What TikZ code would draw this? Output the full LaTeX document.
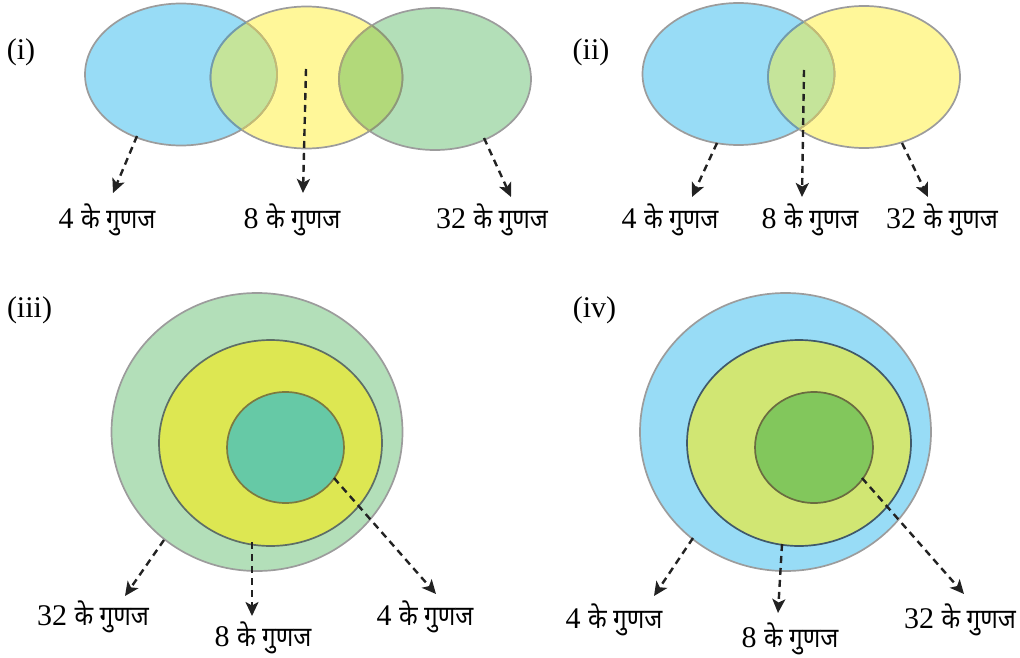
\documentclass[tikz,border=0pt]{standalone}
\usepackage{fontspec}
\setmainfont{Liberation Serif}
\newfontfamily\hindi[Script=Devanagari,Scale=0.92,FakeStretch=0.88]{Noto Sans}
\usetikzlibrary{arrows.meta}

\definecolor{cBlue}{HTML}{98DCF6}
\definecolor{cYellow}{HTML}{FFF799}
\definecolor{cGreen}{HTML}{B3DFB8}
\definecolor{ovBY}{HTML}{C5E49A}
\definecolor{ovYG}{HTML}{B2D97A}
\definecolor{ringgray}{HTML}{9C9C9C}
\definecolor{edgeOlive}{HTML}{C4BC72}
\definecolor{edgeSteel}{HTML}{6F9CAE}
\definecolor{edgeMoss}{HTML}{8E9A76}
\definecolor{edgeKhaki}{HTML}{A8A676}
\definecolor{outerGreen}{HTML}{B3DFB9}
\definecolor{midLime}{HTML}{DDE752}
\definecolor{innerTeal}{HTML}{66C9A6}
\definecolor{midEdgeA}{HTML}{5E6E66}
\definecolor{innerEdgeA}{HTML}{7C7A40}
\definecolor{midPale}{HTML}{D1E673}
\definecolor{innerLeaf}{HTML}{82C75C}
\definecolor{midEdgeB}{HTML}{40596A}
\definecolor{innerEdgeB}{HTML}{6A6C40}
\definecolor{arrowc}{HTML}{222222}

\tikzset{
  ring/.style={line width=1.7pt},
  oval/.style={x radius=96pt, y radius=71pt},
  arr/.style={draw=arrowc, line width=2.4pt, dash pattern=on 7pt off 5pt,
    -{Stealth[length=14pt,width=13pt,inset=3.5pt]}},
  lbl/.style={font=\fontsize{30}{32}\selectfont, anchor=base, inner sep=0pt},
  tag/.style={font=\fontsize{30}{32}\selectfont, anchor=base, inner sep=0pt},
}
\newcommand{\gunaj}[1]{#1 {\hindi के गुणज}}

\begin{document}
\begin{tikzpicture}[x=1pt,y=-1pt]
\useasboundingbox (0,0) rectangle (1020,658);

%% ---------- (i): three overlapping sets ----------
\coordinate (B1) at (181,74.5);
\coordinate (Y1) at (306.5,77.5);
\coordinate (G1) at (435,79);
\fill[cBlue] (B1) ellipse [oval];
\fill[cYellow] (Y1) ellipse [oval];
\fill[cGreen] (G1) ellipse [oval];
\begin{scope}\clip (B1) ellipse [oval]; \fill[ovBY] (Y1) ellipse [oval];\end{scope}
\begin{scope}\clip (Y1) ellipse [oval]; \fill[ovYG] (G1) ellipse [oval];\end{scope}
\draw[ring, ringgray] (B1) ellipse [oval] (Y1) ellipse [oval] (G1) ellipse [oval];
\begin{scope}\clip (Y1) ellipse [oval]; \draw[ring, edgeOlive] (B1) ellipse [oval];\end{scope}
\begin{scope}\clip (B1) ellipse [oval]; \draw[ring, edgeSteel] (Y1) ellipse [oval];\end{scope}
\begin{scope}\clip (G1) ellipse [oval]; \draw[ring, edgeMoss] (Y1) ellipse [oval];\end{scope}
\begin{scope}\clip (Y1) ellipse [oval]; \draw[ring, edgeKhaki] (G1) ellipse [oval];\end{scope}

\node[tag] (t1) at (21,60) {(i)};
\node[lbl] (l1a) at (107,228) {\gunaj{4}};
\node[lbl] (l1b) at (292,228) {\gunaj{8}};
\node[lbl] (l1c) at (492,228) {\gunaj{32}};
\coordinate (s1a) at (137,136); \coordinate (e1a) at (113,193);
\coordinate (s1b) at (306,69);  \coordinate (e1b) at (303,193);
\coordinate (s1c) at (484,138); \coordinate (e1c) at (511,197);
\draw[arr] (s1a) -- (e1a);
\draw[arr] (s1b) -- (e1b);
\draw[arr] (s1c) -- (e1c);

%% ---------- (ii): two overlapping sets ----------
\coordinate (B2) at (738.5,74);
\coordinate (Y2) at (864,77);
\fill[cBlue] (B2) ellipse [oval];
\fill[cYellow] (Y2) ellipse [oval];
\begin{scope}\clip (B2) ellipse [oval]; \fill[ovBY] (Y2) ellipse [oval];\end{scope}
\draw[ring, ringgray] (B2) ellipse [oval] (Y2) ellipse [oval];
\begin{scope}\clip (Y2) ellipse [oval]; \draw[ring, edgeOlive] (B2) ellipse [oval];\end{scope}
\begin{scope}\clip (B2) ellipse [oval]; \draw[ring, edgeSteel] (Y2) ellipse [oval];\end{scope}

\node[tag] (t2) at (591,60) {(ii)};
\node[lbl] (l2a) at (670,228) {\gunaj{4}};
\node[lbl] (l2b) at (810,228) {\gunaj{8}};
\node[lbl] (l2c) at (942,228) {\gunaj{32}};
\coordinate (s2a) at (717,143); \coordinate (e2a) at (692,197);
\coordinate (s2b) at (804,70);  \coordinate (e2b) at (802,197);
\coordinate (s2c) at (902,143); \coordinate (e2c) at (928,197);
\draw[arr] (s2a) -- (e2a);
\draw[arr] (s2b) -- (e2b);
\draw[arr] (s2c) -- (e2c);

%% ---------- (iii): nested sets ----------
\filldraw[ring, fill=outerGreen, draw=ringgray] (257,432) ellipse [x radius=145.5pt, y radius=139pt];
\filldraw[ring, fill=midLime, draw=midEdgeA] (270.5,443) ellipse [x radius=111.5pt, y radius=103pt];
\filldraw[ring, fill=innerTeal, draw=innerEdgeA] (285.5,447.5) ellipse [x radius=58.5pt, y radius=55.5pt];

\node[tag] (t3) at (29.5,317) {(iii)};
\node[lbl] (l3a) at (93,625) {\gunaj{32}};
\node[lbl] (l3b) at (263,646) {\gunaj{8}};
\node[lbl] (l3c) at (425,625) {\gunaj{4}};
\coordinate (s3a) at (164,540); \coordinate (e3a) at (125,596);
\coordinate (s3b) at (252,542); \coordinate (e3b) at (252,616);
\coordinate (s3c) at (334,478); \coordinate (e3c) at (436,594);
\draw[arr] (s3a) -- (e3a);
\draw[arr] (s3b) -- (e3b);
\draw[arr] (s3c) -- (e3c);

%% ---------- (iv): nested sets ----------
\filldraw[ring, fill=cBlue, draw=ringgray] (785.5,432) ellipse [x radius=145.5pt, y radius=139pt];
\filldraw[ring, fill=midPale, draw=midEdgeB] (799,443) ellipse [x radius=112pt, y radius=103pt];
\filldraw[ring, fill=innerLeaf, draw=innerEdgeB] (814,447.5) ellipse [x radius=59pt, y radius=55.5pt];

\node[tag] (t4) at (594.5,317) {(iv)};
\node[lbl] (l4a) at (614,628) {\gunaj{4}};
\node[lbl] (l4b) at (790,647) {\gunaj{8}};
\node[lbl] (l4c) at (960,628) {\gunaj{32}};
\coordinate (s4a) at (693,538); \coordinate (e4a) at (654,596);
\coordinate (s4b) at (782,544); \coordinate (e4b) at (778,613);
\coordinate (s4c) at (862,478); \coordinate (e4c) at (964,594);
\draw[arr] (s4a) -- (e4a);
\draw[arr] (s4b) -- (e4b);
\draw[arr] (s4c) -- (e4c);
\end{tikzpicture}
\end{document}
